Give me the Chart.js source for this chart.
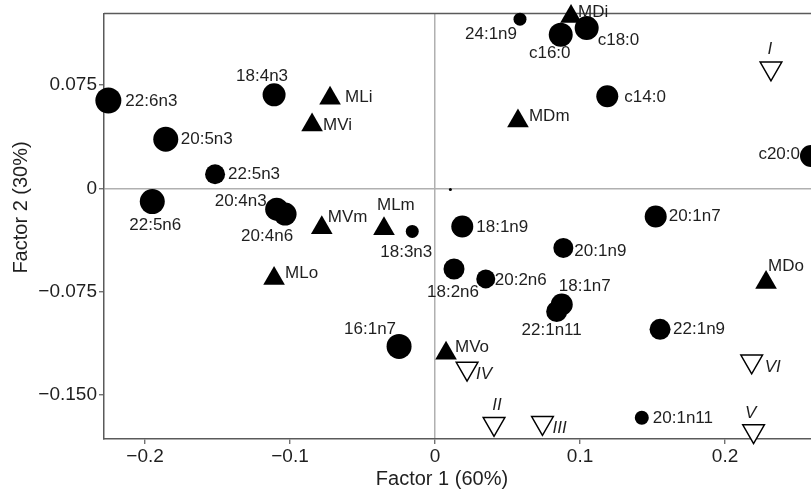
<!DOCTYPE html>
<html>
<head>
<meta charset="utf-8">
<script src="https://cdn.jsdelivr.net/npm/chart.js@4.4.1/dist/chart.umd.min.js"></script>
<style>
html,body{margin:0;padding:0;background:#fff;overflow:hidden}
#wrap{width:811px;height:493px;position:relative}
</style>
</head>
<body>
<div id="wrap"><canvas id="c"></canvas></div>
<script>
// ---- axis ticks ----
const xTicks = [-0.2, -0.1, 0, 0.1, 0.2];
const yTicks = [-0.150, -0.075, 0, 0.075];
const xTitle = 'Factor 1 (60%)';
const yTitle = 'Factor 2 (30%)';

// ---- fatty acids (filled circles) ----
const faLabels = ['22:6n3','20:5n3','22:5n3','22:5n6','18:4n3','20:4n3','20:4n6','18:3n3','16:1n7','24:1n9','c16:0','c18:0','c14:0','c20:0','18:1n9','20:1n7','20:1n9','18:2n6','20:2n6','18:1n7','22:1n11','22:1n9','20:1n11',''];
const faX = [-0.2253,-0.1857,-0.1517,-0.1950,-0.1110,-0.1092,-0.1034,-0.0157,-0.0248,0.0586,0.0867,0.1046,0.1188,0.2593,0.0188,0.1522,0.0885,0.0131,0.0350,0.0874,0.0839,0.1552,0.1426,0.0106];
const faY = [0.0639,0.0357,0.0103,-0.0096,0.0680,-0.0151,-0.0187,-0.0313,-0.1149,0.1230,0.1117,0.1165,0.0670,0.0236,-0.0277,-0.0204,-0.0433,-0.0586,-0.0658,-0.0844,-0.0895,-0.1025,-0.1668,-0.0009];

// ---- sites (filled triangles) ----
const siteLabels = ['MLi','MVi','MVm','MLm','MLo','MDi','MDm','MDo','MVo'];
const siteX = [-0.0724,-0.0848,-0.0781,-0.0352,-0.1110,0.0938,0.0572,0.2283,0.0076];
const siteY = [0.0656,0.0460,-0.0286,-0.0293,-0.0656,0.1250,0.0489,-0.0685,-0.1199];

// ---- groups (open inverted triangles) ----
const groupLabels = ['I','II','III','IV','V','VI'];
const groupX = [0.2317,0.0407,0.0741,0.0221,0.2197,0.2184];
const groupY = [0.0873,-0.1712,-0.1704,-0.1310,-0.1764,-0.1257];

// ---- styling (marker sizes, label placement: [dx, dy, align]) ----
const faRadius = [13,12.5,10,12.5,11.5,11.5,11.5,6.5,12.5,6.5,12,12,11,11,11,11,10,10.5,9.5,11,10.5,10.5,7,1.5];
const faLabelPos = [[17,1,'left'],[15,0,'left'],[13,0,'left'],[3,24,'center'],[-12,-19,'center'],[-10,-8,'right'],[-18,22,'center'],[-6,21,'center'],[-29,-17,'center'],[-3,15,'right'],[-11,19,'center'],[11,12,'left'],[17,1,'left'],[-11,-2,'right'],[14,1,'left'],[13,0,'left'],[11,3,'left'],[-1,23,'center'],[9,1,'left'],[23,-18,'center'],[-5,19,'center'],[13,0,'left'],[11,0,'left'],[0,0,'left']];
const siteLabelPos = [[15,-1,'left'],[11,0,'left'],[6,-10,'left'],[-7,-23,'left'],[11,-5,'left'],[7,-4,'left'],[11,-5,'left'],[2,-16,'left'],[9,-6,'left']];
const groupLabelPos = [[-1,-19,'center'],[3,-19,'center'],[10,5,'left'],[9,6,'left'],[-3,-18,'center'],[13,6,'left']];

const FONT = '"Liberation Sans", Arial, Helvetica, sans-serif';
const TEXT = '#1f1f1f';
const AXIS = '#5a5a5a';
const ZERO = '#b0b0b0';

function fmt(v, d) {
  if (Math.abs(v) < 1e-9) return '0';
  return (v < 0 ? '\u2212' : '') + Math.abs(v).toFixed(d);
}
const pts = (xs, ys) => xs.map((x, i) => ({x: x, y: ys[i]}));

const framePlugin = {
  id: 'frame',
  beforeDatasetsDraw(chart) {
    const a = chart.chartArea, ctx = chart.ctx;
    ctx.save();
    ctx.strokeStyle = AXIS;
    ctx.lineWidth = 1.5;
    ctx.beginPath();
    ctx.moveTo(a.left, a.top);
    ctx.lineTo(a.right, a.top);
    ctx.stroke();
    ctx.restore();
  }
};

const labelPlugin = {
  id: 'pointLabels',
  afterDatasetsDraw(chart) {
    const ctx = chart.ctx, a = chart.chartArea;
    const sets = [[0, faLabels, faLabelPos, false], [1, siteLabels, siteLabelPos, false], [2, groupLabels, groupLabelPos, true]];
    ctx.save();
    ctx.fillStyle = TEXT;
    ctx.textBaseline = 'middle';
    sets.forEach(([di, labels, pos, italic]) => {
      const meta = chart.getDatasetMeta(di);
      ctx.font = (italic ? 'italic ' : '') + '17px ' + FONT;
      meta.data.forEach((el, i) => {
        if (!labels[i]) return;
        const p = pos[i];
        ctx.textAlign = p[2];
        ctx.fillText(labels[i], el.x + p[0], el.y + p[1]);
      });
    });
    // axis titles
    ctx.font = '20px ' + FONT;
    ctx.textAlign = 'center';
    ctx.fillText(xTitle, a.left + (a.right - a.left) * 0.478, chart.height - 14);
    ctx.translate(21, a.top + (a.bottom - a.top) * 0.456);
    ctx.rotate(-Math.PI / 2);
    ctx.fillText(yTitle, 0, 0);
    ctx.restore();
  }
};

new Chart(document.getElementById('c'), {
  type: 'scatter',
  data: {
    datasets: [
      {
        label: 'fatty acids',
        data: pts(faX, faY),
        pointStyle: 'circle',
        pointRadius: faRadius,
        pointHoverRadius: faRadius,
        pointBackgroundColor: '#000',
        pointBorderColor: '#000',
        pointBorderWidth: 0,
        clip: false
      },
      {
        label: 'sites',
        data: pts(siteX, siteY),
        pointStyle: 'triangle',
        pointRadius: 12.5,
        pointHoverRadius: 12.5,
        pointBackgroundColor: '#000',
        pointBorderColor: '#000',
        pointBorderWidth: 0,
        clip: false
      },
      {
        label: 'groups',
        data: pts(groupX, groupY),
        pointStyle: 'triangle',
        pointRotation: 180,
        pointRadius: 12.5,
        pointHoverRadius: 12.5,
        pointBackgroundColor: '#fff',
        pointBorderColor: '#000',
        pointBorderWidth: 1.5,
        clip: false
      }
    ]
  },
  options: {
    responsive: true,
    maintainAspectRatio: false,
    animation: false,
    events: [],
    layout: { padding: { top: 12, right: 0, bottom: 0, left: 0 }, autoPadding: false },
    plugins: { legend: { display: false }, tooltip: { enabled: false } },
    scales: {
      x: {
        type: 'linear',
        min: -0.2283,
        max: 0.2593,
        afterBuildTicks: s => { s.ticks = xTicks.map(v => ({ value: v })); },
        afterFit: s => { s.height = 54; },
        grid: {
          color: c => (c.tick && Math.abs(c.tick.value) < 1e-9) ? ZERO : 'rgba(0,0,0,0)',
          lineWidth: 1.5,
          tickLength: 5,
          tickColor: AXIS,
          tickWidth: 1.2
        },
        border: { display: true, color: AXIS, width: 1.5 },
        ticks: {
          color: TEXT,
          font: { family: FONT, size: 19 },
          padding: 1,
          maxRotation: 0,
          autoSkip: false,
          callback: v => fmt(v, 1)
        }
      },
      y: {
        type: 'linear',
        min: -0.1822,
        max: 0.1272,
        afterBuildTicks: s => { s.ticks = yTicks.map(v => ({ value: v })); },
        afterFit: s => { s.width = 104; },
        grid: {
          color: c => (c.tick && Math.abs(c.tick.value) < 1e-9) ? ZERO : 'rgba(0,0,0,0)',
          lineWidth: 1.5,
          tickLength: 5,
          tickColor: AXIS,
          tickWidth: 1.2
        },
        border: { display: true, color: AXIS, width: 1.5 },
        ticks: {
          color: TEXT,
          font: { family: FONT, size: 19 },
          padding: 2,
          autoSkip: false,
          callback: v => fmt(v, 3)
        }
      }
    }
  },
  plugins: [framePlugin, labelPlugin]
});
</script>
</body>
</html>
